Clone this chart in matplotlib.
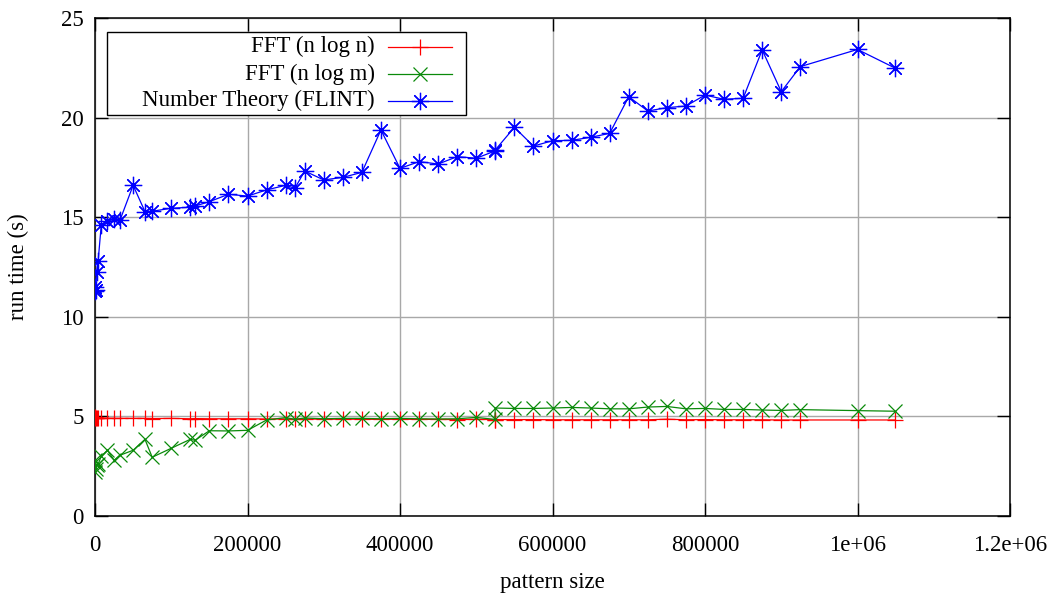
import matplotlib
matplotlib.use("Agg")
from matplotlib import pyplot as plt
from matplotlib.patches import Rectangle

plt.rcParams['font.family'] = ['Liberation Serif', 'DejaVu Serif']
plt.rcParams['font.size'] = 16.5

# pattern sizes: powers of two plus multiples of 25000
pattern_size = [256, 512, 1024, 2048, 4096, 8192, 16384, 25000, 32768,
                50000, 65536, 75000, 100000, 125000, 131072, 150000, 175000,
                200000, 225000, 250000, 262144, 275000, 300000, 325000,
                350000, 375000, 400000, 425000, 450000, 475000, 500000,
                524288, 525000, 550000, 575000, 600000, 625000, 650000,
                675000, 700000, 725000, 750000, 775000, 800000, 825000,
                850000, 875000, 900000, 925000, 1000000, 1048576]

fft_nlogn = [4.95, 4.92, 4.93, 4.9, 4.92, 4.9, 4.91, 4.9, 4.9,
             4.9, 4.9, 4.89, 4.9, 4.88, 4.89, 4.88, 4.88,
             4.88, 4.87, 4.87, 4.86, 4.87, 4.86, 4.86,
             4.86, 4.85, 4.86, 4.85, 4.85, 4.84, 4.85,
             4.84, 4.84, 4.84, 4.84, 4.83, 4.83, 4.83,
             4.83, 4.83, 4.83, 4.86, 4.83, 4.84, 4.83,
             4.83, 4.83, 4.82, 4.82, 4.82, 4.82]

fft_nlogm = [2.2, 2.8, 2.35, 2.55, 2.6, 3.0, 3.3, 2.8, 3.05,
             3.3, 3.85, 2.95, 3.4, 3.85, 3.8, 4.28, 4.27,
             4.3, 4.82, 4.94, 4.85, 4.92, 4.88, 4.9,
             4.9, 4.88, 4.9, 4.88, 4.87, 4.88, 4.95,
             4.85, 5.42, 5.4, 5.4, 5.42, 5.45, 5.42,
             5.38, 5.38, 5.47, 5.5, 5.38, 5.4, 5.35,
             5.35, 5.32, 5.3, 5.34, 5.29, 5.26]

flint = [11.3, 11.5, 11.35, 12.27, 12.8, 14.6, 14.8, 14.9, 14.85,
         16.6, 15.28, 15.3, 15.45, 15.5, 15.56, 15.78, 16.15,
         16.06, 16.37, 16.6, 16.45, 17.32, 16.87, 17.0,
         17.25, 19.38, 17.45, 17.79, 17.67, 18.04, 17.96,
         18.32, 18.38, 19.51, 18.57, 18.84, 18.86, 19.01,
         19.21, 21.05, 20.33, 20.5, 20.58, 21.13, 20.92,
         20.97, 23.4, 21.3, 22.56, 23.42, 22.5]

labels = ['FFT (n log n)', 'FFT (n log m)', 'Number Theory (FLINT)']
x_ticks = [0, 200000, 400000, 600000, 800000, 1000000, 1200000]
x_tick_labels = ['0', '200000', '400000', '600000', '800000', '1e+06', '1.2e+06']
y_ticks = [0, 5, 10, 15, 20, 25]

styles = [
    dict(color='#ff0000', marker='+', markersize=11.5, markeredgewidth=0.9),
    dict(color='#0a8a0a', marker='x', markersize=10.5, markeredgewidth=0.9),
    dict(color='#0000ff', marker=(8, 2, 0), markersize=12.5, markeredgewidth=0.9),
]

fig = plt.figure(figsize=(10.47, 5.95), dpi=100)
ax = fig.add_axes([95 / 1047, 79 / 595, 915 / 1047, 498 / 595])

for ys, st in zip([fft_nlogn, fft_nlogm, flint], styles):
    ax.plot(pattern_size, ys, linewidth=0.9, zorder=3, **st)

ax.set_xlim(0, 1200000)
ax.set_ylim(0, 25)
ax.set_xticks(x_ticks)
ax.set_xticklabels(x_tick_labels)
ax.set_yticks(y_ticks)

ax.grid(True, color='#a8a8a8', linewidth=1.0, zorder=0)
ax.set_axisbelow(True)
ax.tick_params(direction='in', length=9.5, width=1.0, top=True, right=True,
               color='black')
ax.tick_params(axis='x', pad=14)
ax.tick_params(axis='y', pad=8)
for sp in ax.spines.values():
    sp.set_linewidth(1.1)

ax.set_xlabel('pattern size')
ax.set_ylabel('run time (s)')
ax.xaxis.set_label_coords(0.5, -0.1345)
ax.xaxis.label.set_va('center')
ax.yaxis.set_label_coords(-0.084, 0.5)
ax.yaxis.label.set_va('center')

# key box, gnuplot style: right aligned text, sample to the right
ax.add_patch(Rectangle((0.0131, 0.8052), 0.4055 - 0.0131, 0.9719 - 0.8052,
                       transform=ax.transAxes, facecolor='white',
                       edgecolor='black', linewidth=1.0, zorder=5))
rows = [0.9426, 0.8876, 0.8339]
for lab, st, yy in zip(labels, styles, rows):
    ax.text(0.306, yy, lab, transform=ax.transAxes, ha='right',
            va='center', zorder=6)
    ax.plot([0.3202, 0.3552, 0.3902], [yy, yy, yy], transform=ax.transAxes,
            linewidth=0.9, markevery=[1], zorder=6, clip_on=False, **st)

fig.savefig('out.png', dpi=100)
